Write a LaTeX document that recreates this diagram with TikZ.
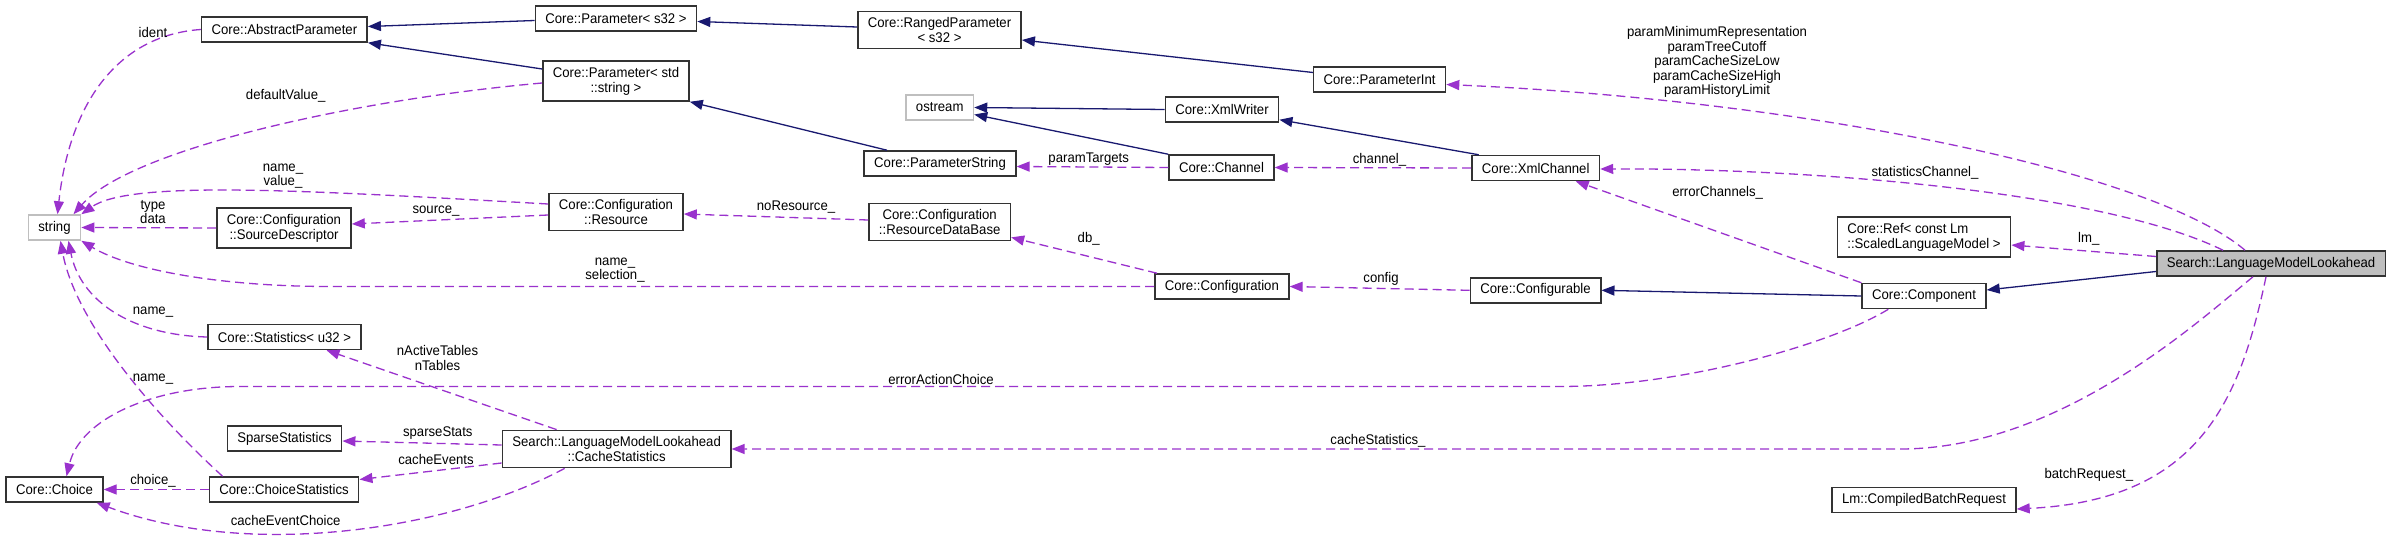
\documentclass[tikz,border=0pt]{standalone}
\usepackage{fontspec}
\setmainfont{Liberation Sans}[FakeStretch=0.94]
\usetikzlibrary{arrows.meta,calc}

\definecolor{inheritblue}{HTML}{191970}
\definecolor{memberpurple}{HTML}{9A32CD}
\definecolor{externgray}{HTML}{BFBFBF}

\begin{document}
\begin{tikzpicture}[x=1pt, y=-1pt,
  klass/.style={draw=black!80, line width=1.5pt, fill=white, inner xsep=10pt, inner ysep=6pt, minimum height=25pt, align=center, font=\fontsize{14}{15}\selectfont},
  extern/.style={klass, draw=externgray},
  focus/.style={klass, fill=externgray},
  inherit/.style={draw=inheritblue, line width=1.3pt, -{Triangle[length=13pt,width=10pt]}},
  member/.style={draw=memberpurple, line width=1.3pt, dash pattern=on 9pt off 5pt, -{Triangle[length=13pt,width=10pt]}},
  memberlabel/.style={align=center, inner sep=0pt, font=\fontsize{14}{14.5}\selectfont}
]

  \fill[white] (0,0) rectangle (2389,543);
  \useasboundingbox (0,0) rectangle (2389,543);

  % classes, column by column from the left
  \node[extern] (str) at (54.5,227.5) {string};
  \node[klass] (choice) at (54.5,489.5) {Core::Choice};

  \node[klass] (absparam) at (284.4,29.5) {Core::AbstractParameter};
  \node[klass] (srcdesc) at (284,228) {Core::Configuration\\::SourceDescriptor};
  \node[klass] (stats) at (284.5,337) {Core::Statistics< u32 >};
  \node[klass] (sparse) at (284.5,438.5) {SparseStatistics};
  \node[klass] (choicestats) at (284,489.5) {Core::ChoiceStatistics};

  \node[klass] (params32) at (616,18.5) {Core::Parameter< s32 >};
  \node[klass] (paramstr) at (616,81) {Core::Parameter< std\\::string >};
  \node[klass] (resource) at (616,212) {Core::Configuration\\::Resource};
  \node[klass] (cachestats) at (616.6,449) {Search::LanguageModelLookahead\\::CacheStatistics};

  \node[klass] (rangedparam) at (939.5,30) {Core::RangedParameter\\< s32 >};
  \node[extern] (ostream) at (939.7,107.5) {ostream};
  \node[klass] (paramstring) at (940,163.5) {Core::ParameterString};
  \node[klass] (resdb) at (939.7,222) {Core::Configuration\\::ResourceDataBase};

  \node[klass] (xmlwriter) at (1222,109.5) {Core::XmlWriter};
  \node[klass] (channel) at (1221.5,167.5) {Core::Channel};
  \node[klass] (config) at (1221.8,286.5) {Core::Configuration};

  \node[klass] (paramint) at (1379.6,79.5) {Core::ParameterInt};
  \node[klass] (xmlchannel) at (1535.7,168) {Core::XmlChannel};
  \node[klass] (configurable) at (1535.5,290.3) {Core::Configurable};

  \node[klass, align=left] (reflm) at (1924,237) {Core::Ref< const Lm\\::ScaledLanguageModel >};
  \node[klass] (component) at (1924,296) {Core::Component};
  \node[klass] (batchreq) at (1924,500) {Lm::CompiledBatchRequest};

  \node[focus] (lookahead) at (2271,263.5) {Search::LanguageModelLookahead};

  % inheritance
  \draw[inherit] ($(params32.west)+(0,2)$) -- ($(absparam.east)+(0,-3)$);
  \draw[inherit] ($(paramstr.west)+(0,-12)$) -- (absparam.south east);
  \draw[inherit] ($(rangedparam.west)+(0,-3)$) -- ($(params32.east)+(0,3)$);
  \draw[inherit] ($(paramint.west)+(0,-7)$) -- ($(rangedparam.east)+(0,10)$);
  \draw[inherit] ($(paramstring.north)+(-53,0)$) -- (paramstr.south east);
  \draw[inherit] (xmlwriter.west) -- (ostream.east);
  \draw[inherit] (channel.north west) -- ($(ostream.east)+(0,7)$);
  \draw[inherit] ($(xmlchannel.north)+(-57,0)$) -- ($(xmlwriter.south east)+(0,-3)$);
  \draw[inherit] (component.west) -- (configurable.east);
  \draw[inherit] ($(lookahead.west)+(0,8)$) -- ($(component.east)+(0,-6)$);

  % members
  \draw[member] (absparam.west) .. controls (120,35) and (70,100) .. ($(str.north)+(3,0)$);
  \draw[member] ($(paramstr.west)+(0,2)$) .. controls (350,100) and (130,150) .. ($(str.north)+(19,0)$);
  \draw[member] ($(resource.west)+(0,-8)$) .. controls (300,190) and (130,180) .. (str.north east);
  \draw[member] (srcdesc.west) -- (str.east);
  \draw[member] ($(resource.west)+(0,3)$) -- ($(srcdesc.east)+(0,-4)$);
  \draw[member] ($(resdb.west)+(0,-2)$) -- ($(resource.east)+(0,2)$);
  \draw[member] ($(config.north west)+(3,0)$) -- ($(resdb.south east)+(0,-4)$);
  \draw[member] (config.west) -- (330,286.5) .. controls (220,286.5) and (130,270) .. (str.south east);
  \draw[member] (channel.west) -- ($(paramstring.east)+(0,3)$);
  \draw[member] (xmlchannel.west) -- (channel.east);
  \draw[member] (stats.west) .. controls (130,335) and (80,300) .. ($(str.south)+(14,0)$);
  \draw[member] ($(choicestats.north west)+(14,0)$) .. controls (150,410) and (75,320) .. ($(str.south)+(6,0)$);
  \draw[member] ($(component.south west)+(27,0)$) .. controls (1830,345) and (1680,386.5) .. (1560,386.5)
    -- (240,386.5) .. controls (150,386.5) and (80,420) .. ($(choice.north)+(12,0)$);
  \draw[member] (configurable.west) -- (config.east);
  \draw[member] (component.north west) -- ($(xmlchannel.south)+(40,0)$);
  \draw[member] ($(lookahead.north)+(-26,0)$) .. controls (2150,170) and (1800,100) .. ($(paramint.east)+(0,5)$);
  \draw[member] ($(lookahead.north west)+(67,0)$) .. controls (2100,190) and (1800,168) .. ($(xmlchannel.east)+(0,1)$);
  \draw[member] ($(lookahead.west)+(0,-7)$) -- ($(reflm.east)+(0,8)$);
  \draw[member] ($(lookahead.south)+(-18,0)$) .. controls (2200,320) and (2060,449) .. (1900,449) -- (cachestats.east);
  \draw[member] ($(lookahead.south)+(-5,0)$) .. controls (2240,400) and (2200,500) .. ($(batchreq.east)+(0,9)$);
  \draw[member] ($(cachestats.north)+(-60,0)$) -- ($(stats.south)+(42,0)$);
  \draw[member] ($(cachestats.west)+(0,-4)$) -- ($(sparse.east)+(0,2.5)$);
  \draw[member] ($(cachestats.west)+(0,14)$) -- ($(choicestats.east)+(0,-10)$);
  \draw[member] (choicestats.west) -- (choice.east);
  \draw[member] ($(cachestats.south)+(-52,0)$) .. controls (450,530) and (250,560) .. ($(choice.south east)+(-7,0)$);

  % member names
  \node[memberlabel] (l-ident) at (153,32) {ident};
  \node[memberlabel] (l-defval) at (285.7,96) {defaultValue\_};
  \node[memberlabel] (l-namevalue) at (283,176) {name\_\\value\_};
  \node[memberlabel] (l-typedata) at (153,212) {type\\data};
  \node[memberlabel] (l-source) at (436,211) {source\_};
  \node[memberlabel] (l-noresource) at (796,207) {noResource\_};
  \node[memberlabel] (l-db) at (1088.7,239) {db\_};
  \node[memberlabel] (l-nameselection) at (615,270) {name\_\\selection\_};
  \node[memberlabel] (l-paramtargets) at (1088.7,159) {paramTargets};
  \node[memberlabel] (l-channel) at (1379.5,160) {channel\_};
  \node[memberlabel] (l-config) at (1381,279) {config};
  \node[memberlabel] (l-errorchannels) at (1717.6,193) {errorChannels\_};
  \node[memberlabel] (l-params) at (1717,62) {paramMinimumRepresentation\\paramTreeCutoff\\paramCacheSizeLow\\paramCacheSizeHigh\\paramHistoryLimit};
  \node[memberlabel] (l-statschannel) at (1925,173) {statisticsChannel\_};
  \node[memberlabel] (l-lm) at (2088.8,239) {lm\_};
  \node[memberlabel] (l-erroraction) at (941,379) {errorActionChoice};
  \node[memberlabel] (l-cachestats) at (1378,441) {cacheStatistics\_};
  \node[memberlabel] (l-batchreq) at (2088.8,475) {batchRequest\_};
  \node[memberlabel] (l-statsname) at (153,312) {name\_};
  \node[memberlabel] (l-choicename) at (153,379) {name\_};
  \node[memberlabel] (l-tables) at (437.5,358) {nActiveTables\\nTables};
  \node[memberlabel] (l-sparse) at (437.8,433) {sparseStats};
  \node[memberlabel] (l-cacheevents) at (436,459) {cacheEvents};
  \node[memberlabel] (l-choice) at (153,481) {choice\_};
  \node[memberlabel] (l-cacheeventchoice) at (285.7,520) {cacheEventChoice};

\end{tikzpicture}
\end{document}
